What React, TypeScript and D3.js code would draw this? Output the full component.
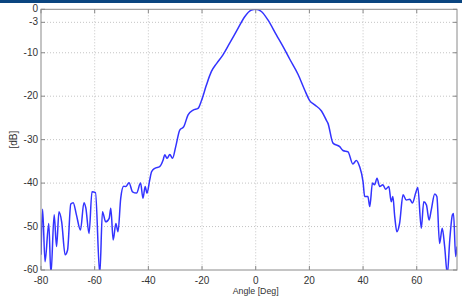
import React from "react";
import { scaleLinear, line, curveMonotoneX } from "d3";

// beam pattern
const angles = [
  -80, -79.4, -78.5, -77.1, -76.3, -75.1, -74.2, -73.3, -72.3, -71.0, -70.1, -68.9, -68.0, -66.8, -65.3,
  -64.0, -63.3, -62.1, -61.0, -59.7, -58.1, -57.1, -55.9, -54.6, -54.0, -53.1, -52.1, -51.3, -50.3, -49.2,
  -48.4, -47.2, -45.9, -44.4, -42.9, -42.0, -41.2, -40.5, -39.5, -38.8, -37.6, -35.8, -34.5, -33.9, -33.0,
  -32.0, -31.0, -29.8, -28.3, -26.8, -25.2, -23.3, -21.5, -20.2, -18.4, -16.5, -14.6, -12.2, -9.7, -6.6,
  -4.1, -1.6, 0, 2.1, 4.6, 7.7, 10.2, 12.7, 15.8, 18.2, 20.1, 22.0, 24.5, 26.3, 26.9, 28.8, 31.3, 32.5,
  34.4, 36.2, 37.5, 38.7, 40.0, 40.6, 41.8, 42.5, 43.5, 44.3, 45.2, 46.2, 47.4, 48.4, 49.6, 50.5, 51.1,
  51.8, 52.6, 53.6, 54.9, 56.1, 57.4, 58.4, 59.6, 60.4, 61.7, 62.6, 63.6, 64.6, 65.4, 66.7, 67.5, 68.5,
  69.5, 70.4, 71.4, 72.3, 73.3, 73.7, 74.5, 75.0,
];
const levels = [
  -56.5, -46.0, -58.1, -49.3, -61, -47.3, -54.6, -46.6, -48.9, -56.5, -55.4, -44.8, -44.5, -47.3, -50.8,
  -44.5, -45.7, -51.6, -42.0, -42.2, -61, -46.6, -48.9, -48.1, -45.8, -53.1, -49.3, -51.2, -43.5, -40.7,
  -40.8, -39.9, -42.0, -42.3, -40.0, -43.5, -40.8, -42.3, -39.3, -37.4, -36.6, -36.2, -34.7, -33.5, -34.3,
  -33.4, -34.3, -31.6, -27.8, -27.0, -24.3, -23.2, -22.8, -21.0, -17.5, -14.3, -12.5, -10.5, -7.8, -4.4,
  -1.7, -0.2, 0, -0.5, -2.5, -5.9, -8.6, -11.5, -15.0, -18.5, -21.0, -22.0, -23.4, -25.5, -26.2, -30.8, -31.6, -32.5,
  -32.8, -35.6, -34.8, -36.2, -39.7, -43.1, -43.1, -45.4, -40.0, -40.4, -38.9, -40.8, -40.4, -41.4, -40.8, -44.3, -43.1,
  -47.7, -51.2, -49.3, -42.7, -43.9, -43.7, -44.6, -42.3, -41.0, -50.4, -44.3, -45.0, -48.5, -46.2, -42.5, -43.1, -53.9,
  -50.4, -54.6, -61, -53.1, -47.3, -47.0, -56.9, -54.6,
];
const xTicks = [-80, -60, -40, -20, 0, 20, 40, 60];
const yTicks = [0, -3, -10, -20, -30, -40, -50, -60];

const W = 462;
const H = 296;
const left = 41;
const right = 457;
const top = 9.3;
const bottom = 270;

export default function App() {
  const x = scaleLinear().domain([-80, 75]).range([left, right]);
  const y = scaleLinear().domain([-60, 0]).range([bottom, top]);
  const pts = angles.map((a, i) => [a, levels[i]] as [number, number]);
  const path = line<[number, number]>()
    .x((d) => x(d[0]))
    .y((d) => y(d[1]))
    .curve(curveMonotoneX)(pts) || "";
  const font = "'Liberation Sans', Arial, sans-serif";

  return (
    <svg width={W} height={H} style={{ position: "absolute", left: 0, top: 0 }} fontFamily={font}>
      <rect width={W} height={H} fill="#fff" />
      <rect width={W} height={3} fill="#0a4580" />
      <defs>
        <clipPath id="plot">
          <rect x={left} y={top} width={right - left} height={bottom - top} />
        </clipPath>
      </defs>
      {/* grid */}
      {xTicks.slice(1).map((t) => (
        <line key={"gx" + t} x1={x(t)} x2={x(t)} y1={top} y2={bottom} stroke="#c4c4c4" strokeDasharray="1,2" />
      ))}
      {yTicks.slice(1, -1).map((t) => (
        <line key={"gy" + t} x1={left} x2={right} y1={y(t)} y2={y(t)} stroke="#c4c4c4" strokeDasharray="1,2" />
      ))}
      {/* inner ticks */}
      {xTicks.map((t) => (
        <g key={"tx" + t} stroke="#888">
          <line x1={x(t)} x2={x(t)} y1={bottom} y2={bottom - 4} />
          <line x1={x(t)} x2={x(t)} y1={top} y2={top + 4} />
        </g>
      ))}
      {yTicks.map((t) => (
        <g key={"ty" + t} stroke="#888">
          <line x1={left} x2={left + 4} y1={y(t)} y2={y(t)} />
          <line x1={right} x2={right - 4} y1={y(t)} y2={y(t)} />
        </g>
      ))}
      <path d={path} fill="none" stroke="#3333ff" strokeWidth={1.5} clipPath="url(#plot)" />
      <rect x={left} y={top} width={right - left} height={bottom - top} fill="none" stroke="#8a8a8a" strokeWidth={1} />
      {/* labels */}
      {xTicks.map((t) => (
        <text key={"lx" + t} x={x(t)} y={bottom + 14.3} textAnchor="middle" fontSize={10} fill="#333">
          {t}
        </text>
      ))}
      {yTicks.map((t) => (
        <text key={"ly" + t} x={left - 3} y={y(t) + 3} textAnchor="end" fontSize={10} fill="#333">
          {t}
        </text>
      ))}
      <text x={x(0)} y={294.4} textAnchor="middle" fontSize={8.8} fill="#333">
        Angle [Deg]
      </text>
      <text transform={`translate(17,${(top + bottom) / 2}) rotate(-90)`} textAnchor="middle" fontSize={10} fill="#333">
        [dB]
      </text>
    </svg>
  );
}
